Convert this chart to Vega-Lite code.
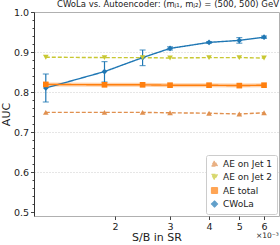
{
  "$schema": "https://vega.github.io/schema/vega-lite/v6.json",
  "autosize": {"type": "none"},
  "padding": {"left": 34, "top": 12, "right": 1, "bottom": 29},
  "width": 245,
  "height": 204,
  "config": {
    "font": "DejaVu Sans",
    "view": {"stroke": "#b0b0b0", "strokeWidth": 1},
    "axis": {"labelFont": "DejaVu Sans", "titleFont": "DejaVu Sans", "labelColor": "#222", "titleColor": "#222", "tickColor": "#444", "titleFontWeight": "normal"}
  },
  "title": {"text": "CWoLa vs. Autoencoder: (mⱼ₁, mⱼ₂) = (500, 500) GeV", "fontSize": 8.5, "fontWeight": "normal", "font": "DejaVu Sans", "color": "#222", "offset": -1, "anchor": "end"},
  "data": {"values": [
    {"series": "CWoLa", "x": 1.2, "y": 0.810, "lo": 0.775, "hi": 0.845},
    {"series": "CWoLa", "x": 1.85, "y": 0.851, "lo": 0.825, "hi": 0.876},
    {"series": "CWoLa", "x": 2.45, "y": 0.886, "lo": 0.866, "hi": 0.905},
    {"series": "CWoLa", "x": 3.0, "y": 0.909, "lo": 0.905, "hi": 0.913},
    {"series": "CWoLa", "x": 4.0, "y": 0.924, "lo": 0.922, "hi": 0.926},
    {"series": "CWoLa", "x": 5.0, "y": 0.929, "lo": 0.922, "hi": 0.936},
    {"series": "CWoLa", "x": 6.0, "y": 0.937, "lo": 0.934, "hi": 0.940},
    {"series": "AE total", "x": 1.2, "y": 0.819, "lo": 0.817, "hi": 0.821},
    {"series": "AE total", "x": 1.85, "y": 0.818, "lo": 0.816, "hi": 0.820},
    {"series": "AE total", "x": 2.45, "y": 0.818, "lo": 0.816, "hi": 0.820},
    {"series": "AE total", "x": 3.0, "y": 0.817, "lo": 0.815, "hi": 0.819},
    {"series": "AE total", "x": 4.0, "y": 0.817, "lo": 0.815, "hi": 0.819},
    {"series": "AE total", "x": 5.0, "y": 0.816, "lo": 0.814, "hi": 0.818},
    {"series": "AE total", "x": 6.0, "y": 0.817, "lo": 0.815, "hi": 0.819},
    {"series": "AE on Jet 2", "x": 1.2, "y": 0.887, "lo": 0.886, "hi": 0.888},
    {"series": "AE on Jet 2", "x": 1.85, "y": 0.886, "lo": 0.885, "hi": 0.887},
    {"series": "AE on Jet 2", "x": 2.45, "y": 0.886, "lo": 0.885, "hi": 0.887},
    {"series": "AE on Jet 2", "x": 3.0, "y": 0.885, "lo": 0.884, "hi": 0.886},
    {"series": "AE on Jet 2", "x": 4.0, "y": 0.886, "lo": 0.885, "hi": 0.887},
    {"series": "AE on Jet 2", "x": 5.0, "y": 0.886, "lo": 0.885, "hi": 0.887},
    {"series": "AE on Jet 2", "x": 6.0, "y": 0.885, "lo": 0.884, "hi": 0.886},
    {"series": "AE on Jet 1", "x": 1.2, "y": 0.749, "lo": 0.748, "hi": 0.750},
    {"series": "AE on Jet 1", "x": 1.85, "y": 0.749, "lo": 0.748, "hi": 0.750},
    {"series": "AE on Jet 1", "x": 2.45, "y": 0.749, "lo": 0.748, "hi": 0.750},
    {"series": "AE on Jet 1", "x": 3.0, "y": 0.748, "lo": 0.747, "hi": 0.749},
    {"series": "AE on Jet 1", "x": 4.0, "y": 0.747, "lo": 0.746, "hi": 0.748},
    {"series": "AE on Jet 1", "x": 5.0, "y": 0.745, "lo": 0.744, "hi": 0.746},
    {"series": "AE on Jet 1", "x": 6.0, "y": 0.748, "lo": 0.747, "hi": 0.749}
  ]},
  "encoding": {
    "x": {"field": "x", "type": "quantitative",
      "scale": {"type": "log", "domain": [1.1, 6.7], "nice": false},
      "axis": {"values": [2, 3, 4, 5, 6], "title": "S/B in SR", "titleFontSize": 11, "labelFontSize": 9.5, "tickSize": 3.5, "grid": false, "domain": false, "titlePadding": 0, "labelPadding": 2}
    },
    "y": {"field": "y", "type": "quantitative",
      "scale": {"domain": [0.49, 1.0], "nice": false, "zero": false},
      "axis": {
        "values": [0.5,0.52,0.54,0.56,0.58,0.6,0.62,0.64,0.66,0.68,0.7,0.72,0.74,0.76,0.78,0.8,0.82,0.84,0.86,0.88,0.9,0.92,0.94,0.96,0.98,1.0],
        "labelExpr": "abs(datum.value*10 - round(datum.value*10)) < 0.001 ? format(datum.value, '.1f') : ''",
        "tickSize": {"condition": {"test": "abs(datum.value*10 - round(datum.value*10)) < 0.001", "value": 3.5}, "value": 2},
        "gridOpacity": {"condition": {"test": "abs(datum.value*10 - round(datum.value*10)) < 0.001 && datum.value > 0.55 && datum.value < 0.95", "value": 1}, "value": 0},
        "grid": true, "gridColor": "#cccccc", "gridDash": [1, 2], "gridWidth": 1,
        "title": "AUC", "titleFontSize": 11, "labelFontSize": 9.5, "domainColor": "#333", "labelPadding": 2, "titlePadding": 2
      }
    }
  },
  "layer": [
    {
      "data": {"values": [{}]},
      "mark": {"type": "rule", "color": "#222", "strokeDash": [4, 2], "strokeWidth": 1.2},
      "encoding": {"y": {"datum": 0.5}, "x": null}
    },
    {
      "data": {"values": [{}]},
      "mark": {"type": "rule", "color": "#333", "strokeWidth": 1},
      "encoding": {"y": {"datum": 1.0}, "x": null}
    },
    {
      "transform": [{"filter": "datum.series == 'AE total'"}],
      "mark": {"type": "line", "color": "#ff7f0e", "strokeWidth": 4, "opacity": 0.35}
    },
    {
      "mark": {"type": "line", "strokeWidth": 1.4},
      "encoding": {
        "color": {"field": "series", "type": "nominal",
          "scale": {"domain": ["AE on Jet 1", "AE on Jet 2", "AE total", "CWoLa"], "range": ["#e0904f", "#c8c832", "#ff7f0e", "#1f77b4"]},
          "legend": {"title": null, "orient": "bottom-right", "offset": 2, "fillColor": "white", "strokeColor": "#cccccc", "cornerRadius": 2, "padding": 4, "labelFontSize": 9, "labelFont": "DejaVu Sans", "labelColor": "#222", "symbolSize": 36, "rowPadding": 2.5, "symbolStrokeWidth": 1.2}},
        "strokeDash": {"field": "series", "type": "nominal",
          "scale": {"domain": ["AE on Jet 1", "AE on Jet 2", "AE total", "CWoLa"], "range": [[4, 2], [4, 2], [1, 0], [1, 0]]},
          "legend": null}
      }
    },
    {
      "mark": {"type": "rule", "strokeWidth": 1.2},
      "encoding": {
        "y": {"field": "lo", "type": "quantitative"},
        "y2": {"field": "hi"},
        "color": {"field": "series", "type": "nominal"}
      }
    },
    {
      "mark": {"type": "tick", "orient": "horizontal", "size": 6, "thickness": 1.2},
      "transform": [{"filter": "datum.series == 'CWoLa'"}, {"fold": ["lo", "hi"], "as": ["k", "v"]}],
      "encoding": {
        "y": {"field": "v", "type": "quantitative"},
        "color": {"field": "series", "type": "nominal"}
      }
    },
    {
      "mark": {"type": "point", "filled": true, "size": 32, "opacity": 1},
      "encoding": {
        "color": {"field": "series", "type": "nominal"},
        "shape": {"field": "series", "type": "nominal",
          "scale": {"domain": ["AE on Jet 1", "AE on Jet 2", "AE total", "CWoLa"], "range": ["triangle-up", "triangle-down", "square", "diamond"]}}
      }
    },
    {
      "transform": [{"filter": "datum.series == 'CWoLa' && datum.x == 6"}],
      "mark": {"type": "text", "fontSize": 7.5, "color": "#222", "dy": 20, "align": "center"},
      "encoding": {"x": {"datum": 6.15}, "y": {"datum": 0.49}, "text": {"value": "×10⁻³"}}
    }
  ]
}
